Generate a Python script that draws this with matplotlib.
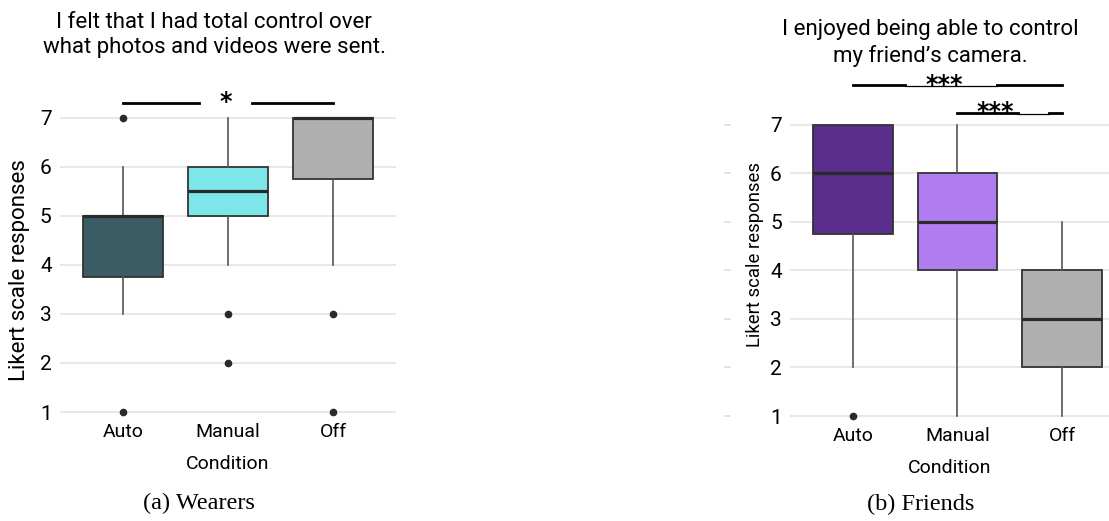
import matplotlib.pyplot as plt
import matplotlib.transforms as mtransforms

plt.rcParams['font.family'] = ['Roboto', 'DejaVu Sans']

conditions = ['Auto', 'Manual', 'Off']
likert_ticks = [1, 2, 3, 4, 5, 6, 7]

# wearers panel (a)
wear_q1 = [3.75, 5.0, 5.75]
wear_med = [5.0, 5.5, 7.0]
wear_q3 = [5.0, 6.0, 7.0]
wear_lo = [3, 4, 4]
wear_hi = [6, 7, 7]
wear_fliers = [[7, 1], [3, 2], [3, 1]]
wear_colors = ['#3b5b65', '#7de6e9', '#b0b0b0']

# friends panel (b)
fr_q1 = [4.75, 4.0, 2.0]
fr_med = [6.0, 5.0, 3.0]
fr_q3 = [7.0, 6.0, 4.0]
fr_lo = [2, 1, 1]
fr_hi = [7, 7, 5]
fr_fliers = [[1], [], []]
fr_colors = ['#5b2e8d', '#b07df0', '#b0b0b0']


def make_stats(q1, med, q3, lo, hi, fliers):
    stats = []
    for i in range(len(q1)):
        stats.append({'q1': q1[i], 'med': med[i], 'q3': q3[i],
                      'whislo': lo[i], 'whishi': hi[i], 'fliers': fliers[i]})
    return stats


def draw_panel(ax, stats, colors, xlim, ylim, ylab_size):
    bp = ax.bxp(stats, positions=range(len(stats)), widths=0.76, patch_artist=True,
                showcaps=False,
                boxprops=dict(edgecolor='#333333', linewidth=1.3),
                medianprops=dict(color='#2a2a2a', linewidth=2.3),
                whiskerprops=dict(color='#555555', linewidth=1.2),
                flierprops=dict(marker='o', markerfacecolor='#2a2a2a',
                                markeredgecolor='#2a2a2a', markersize=4.5))
    for patch, c in zip(bp['boxes'], colors):
        patch.set_facecolor(c)
    ax.set_xlim(*xlim)
    ax.set_ylim(*ylim)
    ax.set_yticks(likert_ticks)
    ax.set_xticks(range(len(conditions)))
    ax.set_xticklabels(conditions, fontsize=14)
    ax.tick_params(axis='y', labelsize=15, length=0, pad=6)
    ax.tick_params(axis='x', length=0, pad=1)
    ax.grid(axis='y', color='#e8e8e8', linewidth=1.5)
    ax.set_axisbelow(True)
    for s in ax.spines.values():
        s.set_visible(False)
    ax.set_xlabel('Condition', fontsize=14, labelpad=10)
    ax.set_ylabel('Likert scale responses', fontsize=ylab_size)


def bracket(ax, x0, x1, y, gap, label, tx, ty, thin_gap=False):
    # line with an opening where the stars sit
    ax.plot([x0, gap[0]], [y, y], color='black', linewidth=2, clip_on=False, zorder=3)
    ax.plot([gap[1], x1], [y, y], color='black', linewidth=2, clip_on=False, zorder=3)
    if thin_gap:
        ax.plot([gap[0], gap[1]], [y - 0.015, y - 0.015], color='black', linewidth=0.9,
                clip_on=False, zorder=3)
    fs = 17
    ax.annotate(label, xy=(tx, ty), xytext=(0, -0.58 * fs), textcoords='offset points',
                ha='center', va='baseline', fontsize=fs, fontweight='bold',
                family='DejaVu Sans', annotation_clip=False)


fig = plt.figure(figsize=(11.09, 5.21), dpi=100)

ax1 = fig.add_axes([0.0541, 0.1904, 0.303, 0.6396])
draw_panel(ax1, make_stats(wear_q1, wear_med, wear_q3, wear_lo, wear_hi, wear_fliers),
           wear_colors, (-0.6, 2.6), (0.8, 7.6), 16)
ax1.yaxis.set_label_coords(-0.089, 0.456)
bracket(ax1, 0, 2, 7.31, (0.72, 1.23), '*', 0.98, 7.47)

ax2 = fig.add_axes([0.7124, 0.1829, 0.2876, 0.689])
draw_panel(ax2, make_stats(fr_q1, fr_med, fr_q3, fr_lo, fr_hi, fr_fliers),
           fr_colors, (-0.6, 2.45), (0.8, 8.2), 13.3)
ax2.yaxis.set_label_coords(-0.0815, 0.476)
bracket(ax2, 0, 2, 7.82, (0.5, 1.38), '***', 0.87, 7.97, thin_gap=True)
bracket(ax2, 1, 2, 7.25, (1.58, 1.88), '***', 1.36, 7.41, thin_gap=True)

# faint stray tick marks left of the friends panel
trans = mtransforms.blended_transform_factory(ax2.transAxes, ax2.transData)
for t in likert_ticks:
    ax2.plot([-0.204, -0.188], [t, t], color='#dddddd', linewidth=1.2,
             transform=trans, clip_on=False)

fig.text(0.193, 0.933, 'I felt that I had total control over\nwhat photos and videos were sent.',
         ha='center', va='center', fontsize=16, linespacing=1.3)
fig.text(0.8386, 0.918, 'I enjoyed being able to control\nmy friend\u2019s camera.',
         ha='center', va='center', fontsize=16, linespacing=1.3)

fig.text(0.1794, 0.033, '(a) Wearers', ha='center', va='center', fontsize=17.5,
         family='Liberation Serif')
fig.text(0.8305, 0.031, '(b) Friends', ha='center', va='center', fontsize=17.5,
         family='Liberation Serif')

fig.savefig('out.png', dpi=100)
